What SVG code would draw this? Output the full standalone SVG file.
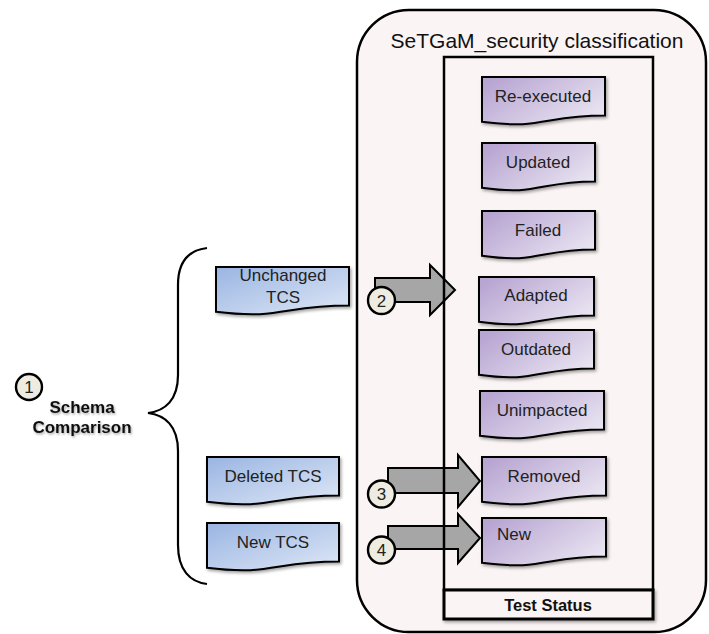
<svg xmlns="http://www.w3.org/2000/svg" width="709" height="634" viewBox="0 0 709 634">
  <defs>
    <linearGradient id="gPurple" x1="0" y1="0.2" x2="1" y2="0.8">
      <stop offset="0" stop-color="#B8A5D2"/>
      <stop offset="1" stop-color="#EAE6F2"/>
    </linearGradient>
    <linearGradient id="gBlue" x1="0" y1="0" x2="1" y2="1">
      <stop offset="0" stop-color="#9AB5E2"/>
      <stop offset="1" stop-color="#DEE7F6"/>
    </linearGradient>
    <filter id="shadow" x="-10%" y="-10%" width="125%" height="135%">
      <feDropShadow dx="1.5" dy="2" stdDeviation="1.5" flood-color="#000" flood-opacity="0.35"/>
    </filter>
    <filter id="textShadow" x="-10%" y="-20%" width="125%" height="160%">
      <feDropShadow dx="1" dy="1.5" stdDeviation="1" flood-color="#000" flood-opacity="0.35"/>
    </filter>
  </defs>
  <style>
    .doc { stroke: #000; stroke-width: 2; filter: url(#shadow); }
    .purple { fill: url(#gPurple); }
    .blue { fill: url(#gBlue); }
    .lbl { font-family: "Liberation Sans", Arial, sans-serif; font-size: 17px; fill: #222; text-anchor: middle; }
    .num { font-family: "Liberation Sans", Arial, sans-serif; font-size: 17px; fill: #222; text-anchor: middle; }
    .badge { fill: #EEECE1; stroke: #000; stroke-width: 2.4; }
    .arrow { fill: #A6A6A6; stroke: #000; stroke-width: 2; stroke-linejoin: miter; }
    .bold { font-family: "Liberation Sans", Arial, sans-serif; font-weight: bold; fill: #111; text-anchor: middle; }
  </style>

  <!-- container -->
  <g id="container">
    <rect x="357" y="10" width="349" height="622" rx="52" ry="52" fill="#FBF4F4" stroke="#000" stroke-width="2.5"/>
    <text x="537" y="48" font-family="Liberation Sans, Arial, sans-serif" font-size="21" fill="#111" text-anchor="middle">SeTGaM_security classification</text>
  </g>

  <!-- connectors -->
  <g id="connectors">
    <path id="brace" d="M207,248 C190,250 178,260 178,285 L178,375 C178,400 165,411 148,413 C165,415 178,426 178,451 L178,545 C178,570 190,582 207,584" fill="none" stroke="#000" stroke-width="2.2"/>
    <path id="arrow2" class="arrow" d="M375,278 H430 V265 L455,290 L430,315 V302 H375 Z"/>
    <path id="arrow3" class="arrow" d="M388,468 H458 V455 L480,481 L458,507 V493 H388 Z"/>
    <path id="arrow4" class="arrow" d="M388,526 H458 V514 L480,538 L458,563 V549 H388 Z"/>
  </g>

  <!-- status panel -->
  <g id="status-panel">
    <rect x="444" y="57" width="209" height="533" fill="none" stroke="#000" stroke-width="2.5"/>
  </g>
  <g id="test-status">
    <rect x="444" y="590" width="209" height="29" fill="#FBF4F4" stroke="#000" stroke-width="3" filter="url(#shadow)"/>
    <text class="bold" x="548" y="611" font-size="16.5">Test Status</text>
  </g>

  <!-- status nodes -->
  <g id="re-executed">
    <path class="doc purple" d="M482,77 H605 V115.5 C543.5,115.5 543.5,130 482,121.8 Z"/>
    <text class="lbl" x="543" y="102">Re-executed</text>
  </g>
  <g id="updated">
    <path class="doc purple" d="M482,143 H595 V181.5 C538.5,181.5 538.5,196 482,187.8 Z"/>
    <text class="lbl" x="538" y="168">Updated</text>
  </g>
  <g id="failed">
    <path class="doc purple" d="M482,211 H595 V249.5 C538.5,249.5 538.5,264 482,255.8 Z"/>
    <text class="lbl" x="538" y="236">Failed</text>
  </g>
  <g id="adapted">
    <path class="doc purple" d="M479,277 H594 V315.5 C536.5,315.5 536.5,330 479,321.8 Z"/>
    <text class="lbl" x="536" y="301">Adapted</text>
  </g>
  <g id="outdated">
    <path class="doc purple" d="M479,330 H594 V368.5 C536.5,368.5 536.5,383 479,374.8 Z"/>
    <text class="lbl" x="536" y="355">Outdated</text>
  </g>
  <g id="unimpacted">
    <path class="doc purple" d="M480,391 H604 V429.5 C542,429.5 542,444 480,435.8 Z"/>
    <text class="lbl" x="542" y="416">Unimpacted</text>
  </g>
  <g id="removed">
    <path class="doc purple" d="M482,457 H606 V495.5 C544,495.5 544,510 482,501.8 Z"/>
    <text class="lbl" x="544" y="482">Removed</text>
  </g>
  <g id="new">
    <path class="doc purple" d="M482,518 H606 V556.5 C544,556.5 544,571 482,562.8 Z"/>
    <text class="lbl" x="497" y="540" style="text-anchor:start">New</text>
  </g>

  <!-- test case sets -->
  <g id="unchanged-tcs">
    <path class="doc blue" d="M216,267 H349 V305.5 C282.5,305.5 282.5,320 216,311.8 Z"/>
    <text class="lbl" x="283" y="281">Unchanged</text>
    <text class="lbl" x="283" y="303">TCS</text>
  </g>
  <g id="deleted-tcs">
    <path class="doc blue" d="M207,457 H339 V495.5 C273,495.5 273,510 207,501.8 Z"/>
    <text class="lbl" x="273" y="482">Deleted TCS</text>
  </g>
  <g id="new-tcs">
    <path class="doc blue" d="M207,523 H339 V561.5 C273,561.5 273,576 207,567.8 Z"/>
    <text class="lbl" x="273" y="548">New TCS</text>
  </g>

  <!-- step badges -->
  <g id="step1">
    <circle class="badge" cx="29" cy="387" r="13"/>
    <text class="num" x="29" y="393">1</text>
  </g>
  <g id="schema-comparison" filter="url(#textShadow)">
    <text class="bold" x="82" y="413" font-size="17">Schema</text>
    <text class="bold" x="82" y="433" font-size="17">Comparison</text>
  </g>
  <g id="step2">
    <circle class="badge" cx="381.5" cy="300.5" r="13.5"/>
    <text class="num" x="381.5" y="306.5">2</text>
  </g>
  <g id="step3">
    <circle class="badge" cx="381.5" cy="494" r="13.5"/>
    <text class="num" x="381.5" y="500">3</text>
  </g>
  <g id="step4">
    <circle class="badge" cx="381.5" cy="550" r="13.5"/>
    <text class="num" x="381.5" y="556">4</text>
  </g>
</svg>
